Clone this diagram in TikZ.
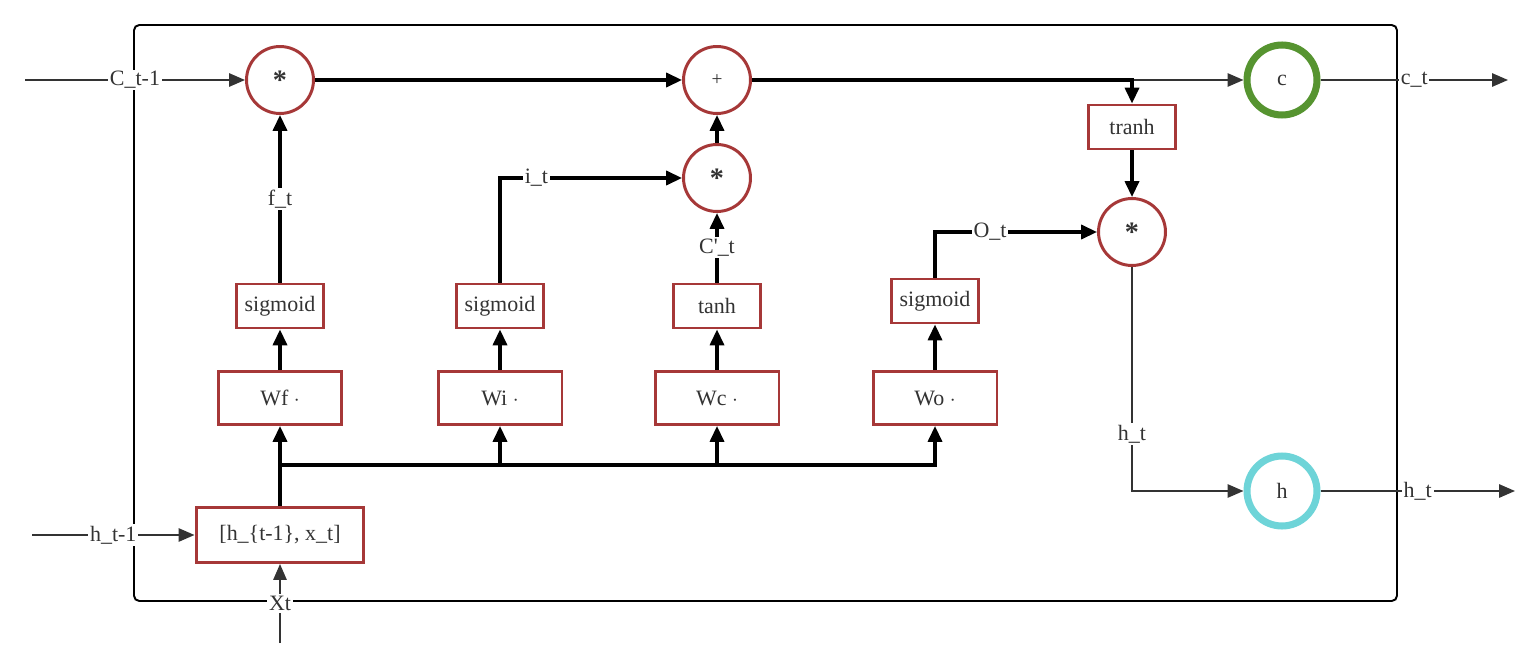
\documentclass[tikz,border=0pt]{standalone}
\usepackage{fontspec}
\setmainfont{Liberation Serif}
\definecolor{gateRed}{RGB}{166, 56, 56}
\definecolor{textGray}{RGB}{51, 51, 51}
\definecolor{cellGreen}{RGB}{86, 148, 48}
\definecolor{hidCyan}{RGB}{110, 212, 216}
\usetikzlibrary{arrows.meta, positioning, calc}

\tikzset{
    gate/.style={draw=gateRed, line width=1.7pt, fill=white, inner sep=0pt, text=textGray,
        minimum width=1.74cm, minimum height=0.88cm},
    wbox/.style={gate, minimum width=2.48cm, minimum height=1.06cm},
    op/.style={circle, draw=gateRed, line width=1.7pt, fill=white, inner sep=0pt,
        minimum size=1.34cm, text=textGray},
    state/.style={circle, line width=4pt, fill=white, inner sep=0pt,
        minimum size=1.4cm, text=textGray},
    flow/.style={black, line width=1.8pt, -{Triangle[length=9pt, width=8pt]}},
    wire/.style={textGray, line width=1.1pt, -{Triangle[length=9pt, width=7.5pt]}},
    lbl/.style={fill=white, inner sep=1pt, text=textGray},
}

\begin{document}
\begin{tikzpicture}[x=0.02cm, y=-0.02cm, every node/.style={font=\fontsize{12.5}{14}\selectfont}]
        \useasboundingbox (0,0) rectangle (1535,669);

        % cell border
        \draw[black, line width=1.1pt, rounded corners=3pt] (134,25) rectangle (1397,601);

        % cell state line
        \node[op, font=\fontsize{16}{16}\selectfont\bfseries] (mulF) at (280,80) {*};
        \node[op, font=\fontsize{11}{12}\selectfont] (add) at (717,80) {+};
        \node[op, font=\fontsize{16}{16}\selectfont\bfseries] (mulI) at (717,178) {*};
        \node[op, font=\fontsize{16}{16}\selectfont\bfseries] (mulO) at (1132,232) {*};
        \node[state, draw=cellGreen] (cnode) at (1282,80) {c};
        \node[state, draw=hidCyan] (hnode) at (1282,491) {h};
        \node[gate] (tranh) at (1132,127) {tranh};

        % gates
        \node[gate] (sigF) at (280,306) {sigmoid};
        \node[gate] (sigI) at (500,306) {sigmoid};
        \node[gate] (tanhC) at (717,306) {tanh};
        \node[gate] (sigO) at (935,301) {sigmoid};
        \node[wbox] (wf) at (280,398) {Wf $\cdot$};
        \node[wbox] (wi) at (500,398) {Wi $\cdot$};
        \node[wbox] (wc) at (717,398) {Wc $\cdot$};
        \node[wbox] (wo) at (935,398) {Wo $\cdot$};
        \node[gate, minimum width=3.36cm, minimum height=1.1cm] (cat) at (280,535) {[h\_\{t-1\}, x\_t]};

        % outside ends
        \coordinate (cIn) at (25,80);
        \coordinate (hIn) at (32,535);
        \coordinate (xIn) at (280,643);
        \coordinate (cOut) at (1508,80);
        \coordinate (hOut) at (1515,491);
        \coordinate (split) at (280,465);

        % inputs
        \draw[wire] (cIn) -- node[lbl] {C\_t-1} (mulF);
        \draw[wire] (hIn) -- node[lbl] {h\_t-1} (cat);
        \draw[wire] (xIn) -- node[lbl] {Xt} (cat);

        % concat to weights
        \draw[flow] (cat) -- (wf);
        \foreach \w in {wi, wc, wo} {
            \draw[flow] (split) -| (\w);
        }
        \draw[flow] (wf) -- (sigF);
        \draw[flow] (wi) -- (sigI);
        \draw[flow] (wc) -- (tanhC);
        \draw[flow] (wo) -- (sigO);

        % gate outputs
        \draw[flow] (sigF) -- node[lbl] {f\_t} (mulF);
        \draw[flow] (sigI) |- node[lbl, pos=0.6] {i\_t} (mulI);
        \draw[flow] (tanhC) -- node[lbl] {C\textquotesingle\_t} (mulI);
        \draw[flow] (sigO) |- node[lbl, pos=0.67] {O\_t} (mulO);
        \draw[flow] (mulI) -- (add);
        \draw[flow] (mulF) -- (add);

        % outputs
        \draw[wire] (add) -- (cnode);
        \draw[flow] (add) -| (tranh);
        \draw[flow] (tranh) -- (mulO);
        \draw[wire] (mulO) |- node[lbl, pos=0.373] {h\_t} (hnode);
        \draw[wire] (cnode) -- node[lbl] {c\_t} (cOut);
        \draw[wire] (hnode) -- node[lbl] {h\_t} (hOut);
    \end{tikzpicture}
\end{document}
